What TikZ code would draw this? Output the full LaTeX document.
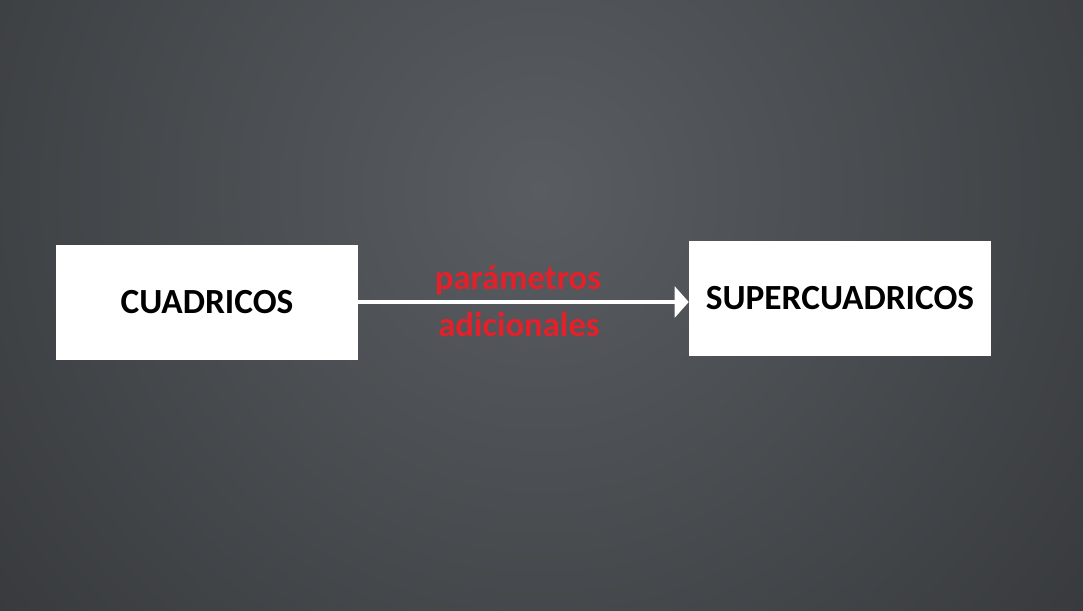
\documentclass[tikz,border=0pt]{standalone}
\usepackage{fontspec}
\setmainfont{Carlito}
\usetikzlibrary{arrows.meta}
\definecolor{bgin}{HTML}{595D61}
\definecolor{bgout}{HTML}{292B2E}
\definecolor{lblred}{HTML}{E4202B}
\tikzset{
  box/.style={fill=white, draw=none, inner sep=0pt, minimum width=226.5pt, minimum height=86.25pt, font=\bfseries\fontsize{26.5pt}{30pt}\selectfont, text=black},
  lbl/.style={font=\bfseries\fontsize{26pt}{30pt}\selectfont, text=lblred, inner sep=0pt, anchor=base},
  conn/.style={draw=white, line width=3.4pt, -{Triangle[width=23pt,length=10.5pt]}}
}
\begin{document}
\begin{tikzpicture}[x=0.75pt,y=-0.75pt]
\useasboundingbox (0,0) rectangle (1083,611);
\begin{scope}
\clip (0,0) rectangle (1083,611);
\fill[inner color=bgin, outer color=bgout] (540,190) circle (1000);
\end{scope}
\node[box] (a) at (207,302.5) {CUADRICOS};
\node[box] (b) at (840,298.5) {SUPERCUADRICOS};
\coordinate (s) at (a.east |- 0,302);
\coordinate (t) at (b.west |- 0,302);
\draw[conn] (s) -- (t);
\node[lbl] (l1) at (518,289) {parámetros};
\node[lbl] (l2) at (519,336) {adicionales};
\end{tikzpicture}
\end{document}
